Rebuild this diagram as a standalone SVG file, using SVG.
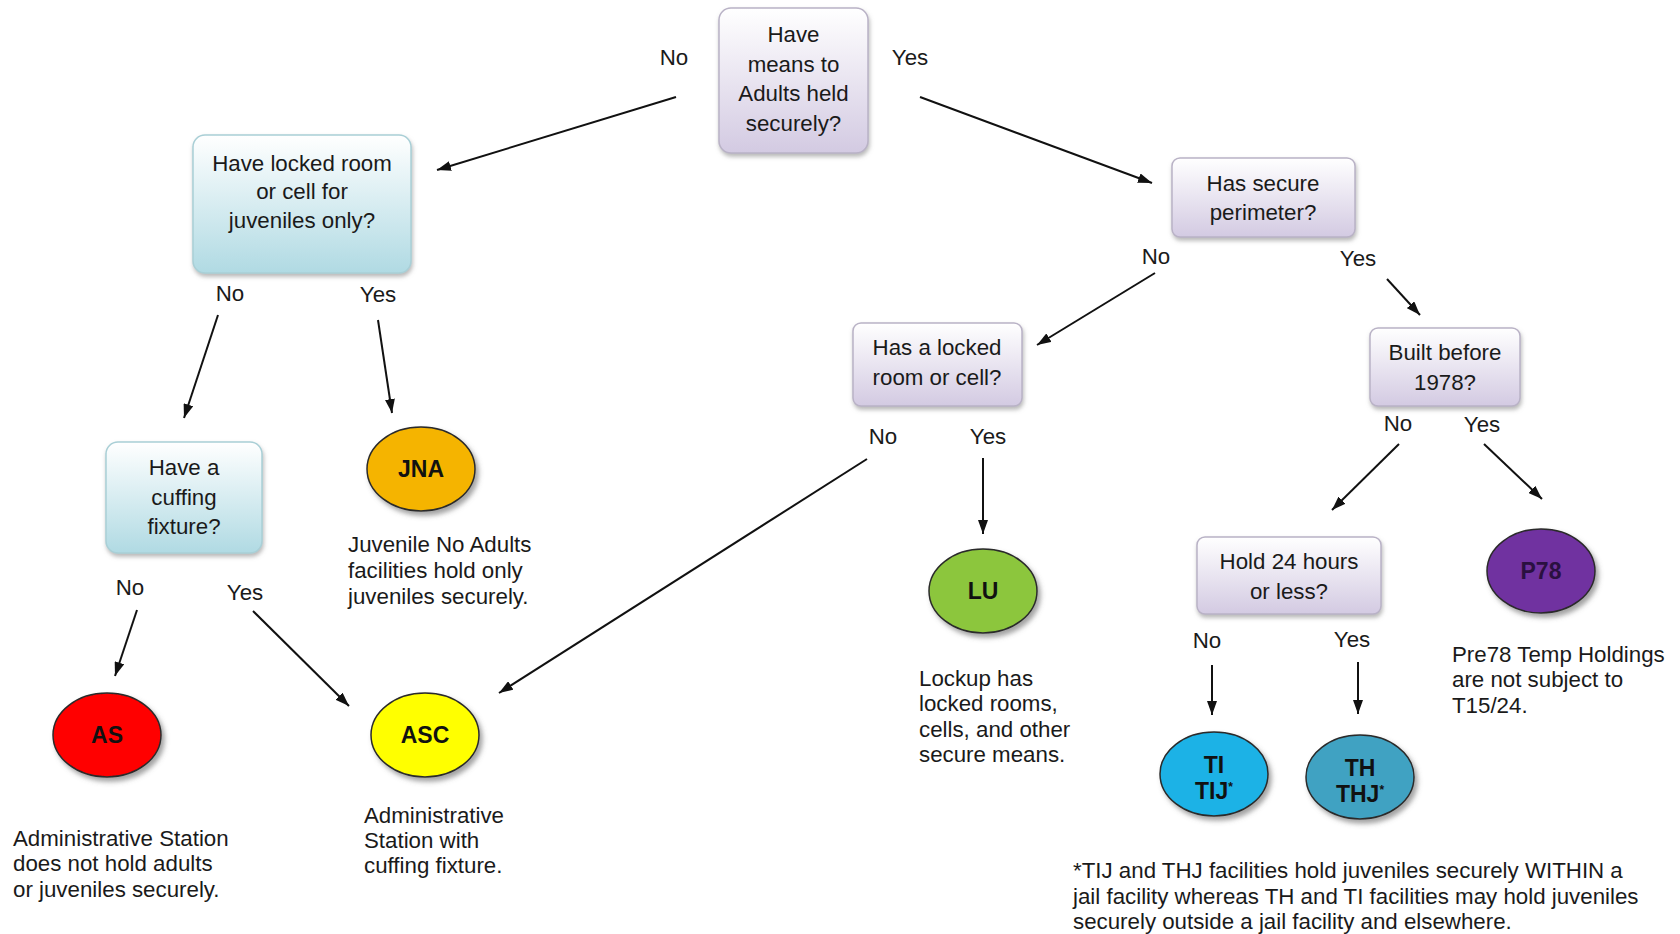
<svg xmlns="http://www.w3.org/2000/svg" width="1680" height="934" viewBox="0 0 1680 934">
<style>
text{font-family:"Liberation Sans",Arial,sans-serif;font-size:22.3px;fill:#1a1a1a}
.c{text-anchor:middle}
.b{font-weight:bold;font-size:23px;fill:#111;text-anchor:middle}
.pbox{fill:url(#gp);stroke:#b9b2c6;stroke-width:1.5;filter:url(#sh)}
.cbox{fill:url(#gc);stroke:#a9cfd6;stroke-width:1.5;filter:url(#sh)}
.node ellipse{stroke:#2a2a2a;stroke-width:1.5;filter:url(#sh2)}
.conn line{stroke:#111;stroke-width:2;marker-end:url(#ah)}
</style>
<defs>
<linearGradient id="gp" x1="0" y1="0" x2="0" y2="1">
<stop offset="0" stop-color="#ffffff"/>
<stop offset="1" stop-color="#d3cae2"/>
</linearGradient>
<linearGradient id="gc" x1="0" y1="0" x2="0" y2="1">
<stop offset="0" stop-color="#ffffff"/>
<stop offset="1" stop-color="#b0dae3"/>
</linearGradient>
<filter id="sh" x="-10%" y="-10%" width="125%" height="130%">
<feDropShadow dx="1" dy="3" stdDeviation="2" flood-color="#888" flood-opacity="0.6"/>
</filter>
<filter id="sh2" x="-15%" y="-15%" width="135%" height="140%">
<feDropShadow dx="3" dy="4" stdDeviation="2.5" flood-color="#666" flood-opacity="0.6"/>
</filter>
<marker id="ah" markerUnits="userSpaceOnUse" markerWidth="14" markerHeight="10" refX="14" refY="5" orient="auto">
<path d="M0,0 L14,5 L0,10 z" fill="#111"/>
</marker>
</defs>
<rect width="1680" height="934" fill="#ffffff"/>

<g id="connectors" class="conn">
<line x1="676" y1="97" x2="437" y2="170"/>
<line x1="920" y1="97" x2="1152" y2="183"/>
<line x1="218" y1="315" x2="184" y2="418"/>
<line x1="378" y1="320" x2="392" y2="413"/>
<line x1="137" y1="610" x2="115" y2="676"/>
<line x1="253" y1="611" x2="349" y2="706"/>
<line x1="867" y1="459" x2="499" y2="693"/>
<line x1="1155" y1="273" x2="1037" y2="345"/>
<line x1="1387" y1="279" x2="1420" y2="315"/>
<line x1="983" y1="458" x2="983" y2="534"/>
<line x1="1399" y1="444" x2="1332" y2="510"/>
<line x1="1484" y1="444" x2="1542" y2="499"/>
<line x1="1212" y1="665" x2="1212" y2="715"/>
<line x1="1358" y1="662" x2="1358" y2="714"/>
</g>

<g id="labels">
<text class="c" x="674" y="65">No</text>
<text class="c" x="910" y="65">Yes</text>
<text class="c" x="230" y="301">No</text>
<text class="c" x="378" y="302">Yes</text>
<text class="c" x="130" y="595">No</text>
<text class="c" x="245" y="600">Yes</text>
<text class="c" x="1156" y="264">No</text>
<text class="c" x="1358" y="266">Yes</text>
<text class="c" x="883" y="444">No</text>
<text class="c" x="988" y="444">Yes</text>
<text class="c" x="1398" y="431">No</text>
<text class="c" x="1482" y="432">Yes</text>
<text class="c" x="1207" y="648">No</text>
<text class="c" x="1352" y="647">Yes</text>
</g>

<g id="q-adults">
<rect class="pbox" x="719" y="8" width="149" height="145" rx="12"/>
<text class="c" x="793.5" y="42">Have</text>
<text class="c" x="793.5" y="72">means to</text>
<text class="c" x="793.5" y="101">Adults held</text>
<text class="c" x="793.5" y="131">securely?</text>
</g>

<g id="q-juvroom">
<rect class="cbox" x="193" y="135" width="218" height="138" rx="12"/>
<text class="c" x="302" y="171">Have locked room</text>
<text class="c" x="302" y="199">or cell for</text>
<text class="c" x="302" y="228">juveniles only?</text>
</g>

<g id="q-cuffing">
<rect class="cbox" x="106" y="442" width="156" height="111" rx="12"/>
<text class="c" x="184" y="475">Have a</text>
<text class="c" x="184" y="505">cuffing</text>
<text class="c" x="184" y="534">fixture?</text>
</g>

<g id="q-perimeter">
<rect class="pbox" x="1172" y="158" width="183" height="79" rx="8"/>
<text class="c" x="1263" y="191">Has secure</text>
<text class="c" x="1263" y="220">perimeter?</text>
</g>

<g id="q-lockedroom">
<rect class="pbox" x="853" y="323" width="169" height="83" rx="8"/>
<text class="c" x="937" y="355">Has a locked</text>
<text class="c" x="937" y="385">room or cell?</text>
</g>

<g id="q-built">
<rect class="pbox" x="1370" y="328" width="150" height="78" rx="8"/>
<text class="c" x="1445" y="360">Built before</text>
<text class="c" x="1445" y="390">1978?</text>
</g>

<g id="q-hold24">
<rect class="pbox" x="1197" y="537" width="184" height="77" rx="8"/>
<text class="c" x="1289" y="569">Hold 24 hours</text>
<text class="c" x="1289" y="599">or less?</text>
</g>

<g id="n-jna" class="node">
<ellipse cx="421" cy="469" rx="54" ry="42" fill="#f5b400"/>
<text class="b" x="421" y="477">JNA</text>
</g>
<g id="n-as" class="node">
<ellipse cx="107" cy="735" rx="54" ry="42" fill="#ff0000"/>
<text class="b" x="107" y="743">AS</text>
</g>
<g id="n-asc" class="node">
<ellipse cx="425" cy="735" rx="54" ry="42" fill="#ffff00"/>
<text class="b" x="425" y="743">ASC</text>
</g>
<g id="n-lu" class="node">
<ellipse cx="983" cy="591" rx="54" ry="42" fill="#8cc63e"/>
<text class="b" x="983" y="599">LU</text>
</g>
<g id="n-ti" class="node">
<ellipse cx="1214" cy="774" rx="54" ry="42" fill="#1ab2e6"/>
<text class="b" x="1214" y="773">TI</text>
<text class="b" x="1214" y="799">TIJ<tspan font-size="12" dy="-8">*</tspan></text>
</g>
<g id="n-th" class="node">
<ellipse cx="1360" cy="777" rx="54" ry="42" fill="#40a2c2"/>
<text class="b" x="1360" y="776">TH</text>
<text class="b" x="1360" y="802">THJ<tspan font-size="12" dy="-8">*</tspan></text>
</g>
<g id="n-p78" class="node">
<ellipse cx="1541" cy="571" rx="54" ry="42" fill="#7030a0"/>
<text class="b" x="1541" y="579" style="fill:#2a1040">P78</text>
</g>

<g id="descriptions">
<text x="348" y="552">Juvenile No Adults</text>
<text x="348" y="578">facilities hold only</text>
<text x="348" y="604">juveniles securely.</text>
<text x="13" y="846">Administrative Station</text>
<text x="13" y="871">does not hold adults</text>
<text x="13" y="897">or juveniles securely.</text>
<text x="364" y="823">Administrative</text>
<text x="364" y="848">Station with</text>
<text x="364" y="873">cuffing fixture.</text>
<text x="919" y="686">Lockup has</text>
<text x="919" y="711">locked rooms,</text>
<text x="919" y="737">cells, and other</text>
<text x="919" y="762">secure means.</text>
<text x="1452" y="662">Pre78 Temp Holdings</text>
<text x="1452" y="687">are not subject to</text>
<text x="1452" y="713">T15/24.</text>
<text x="1073" y="878">*TIJ and THJ facilities hold juveniles securely WITHIN a</text>
<text x="1073" y="904">jail facility whereas TH and TI facilities may hold juveniles</text>
<text x="1073" y="929">securely outside a jail facility and elsewhere.</text>
</g>
</svg>
